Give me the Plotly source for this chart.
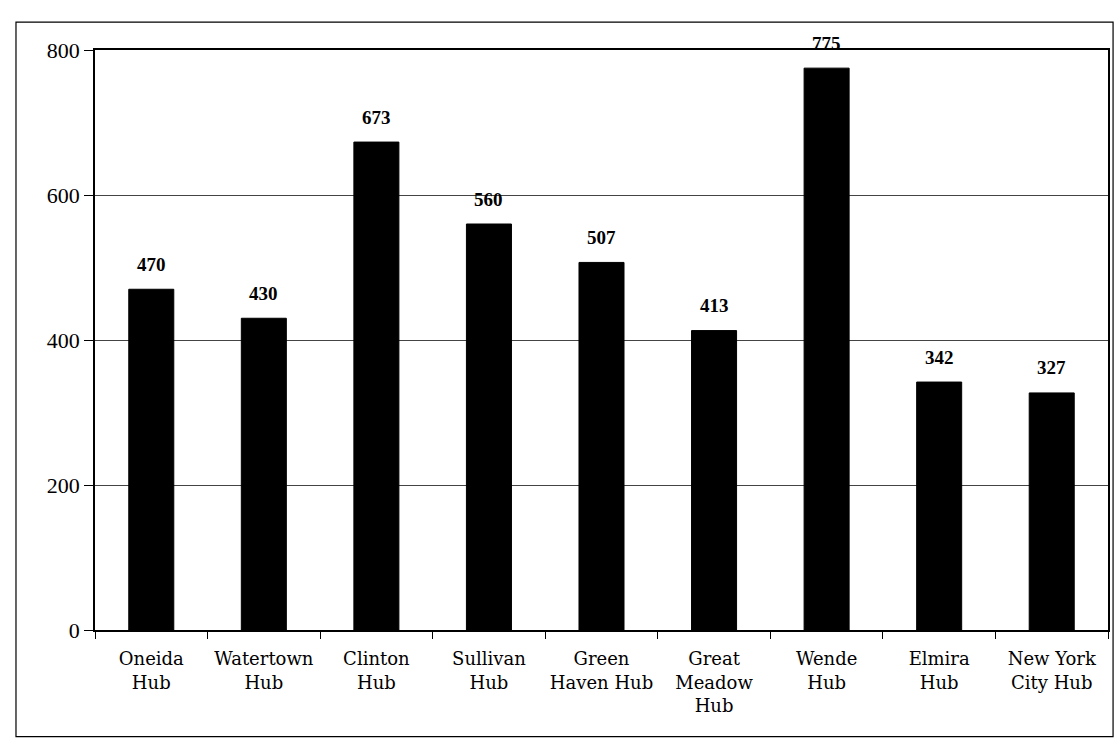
import plotly.graph_objects as go

categories = ["Oneida<br>Hub", "Watertown<br>Hub", "Clinton<br>Hub", "Sullivan<br>Hub",
              "Green<br>Haven Hub", "Great<br>Meadow<br>Hub", "Wende<br>Hub",
              "Elmira<br>Hub", "New York<br>City Hub"]
values = [470, 430, 673, 560, 507, 413, 775, 342, 327]
y_ticks = [0, 200, 400, 600, 800]

FONT = "Liberation Serif"
CAT_FONT = "DejaVu Serif"

fig = go.Figure(go.Bar(
    x=categories, y=values,
    marker=dict(color="black", line=dict(color="black", width=1)),
    width=0.4,
    cliponaxis=False,
    hoverinfo="x+y",
))

annotations = [
    dict(x=c, y=v, xref="x", yref="y", text=f"<b>{v}</b>", showarrow=False,
         yanchor="middle", yshift=25,
         font=dict(family=FONT, size=19, color="black"))
    for c, v in zip(categories, values)
]

fig.update_layout(
    width=1116, height=749,
    margin=dict(l=95, r=8, t=50, b=119, autoexpand=False),
    paper_bgcolor="white", plot_bgcolor="white",
    font=dict(family=FONT, color="black"),
    showlegend=False,
    annotations=annotations,
    xaxis=dict(
        showline=True, linecolor="black", linewidth=1.5, mirror=True,
        ticks="outside", ticklen=7, tickcolor="black", tickson="boundaries",
        tickfont=dict(family=CAT_FONT, size=18, color="black"),
        tickangle=0, automargin=False,
        ticklabelstandoff=12,
        showgrid=False,
    ),
    yaxis=dict(
        range=[0, 800], tickvals=y_ticks, automargin=False,
        showline=True, linecolor="black", linewidth=1.5, mirror=True,
        ticks="outside", ticklen=9, tickcolor="black",
        tickfont=dict(family=FONT, size=22, color="black"),
        showgrid=True, gridcolor="#444444", gridwidth=1,
        zeroline=False,
    ),
    shapes=[dict(type="rect", xref="paper", yref="paper",
                 x0=-0.078, x1=1.005, y0=-0.184, y1=1.048,
                 line=dict(color="black", width=1.2), fillcolor="rgba(0,0,0,0)")],
)

fig.write_html(
    "out.html",
    config={"displayModeBar": False},
    post_script="document.body.style.margin='0';document.body.style.overflow='hidden';",
)
